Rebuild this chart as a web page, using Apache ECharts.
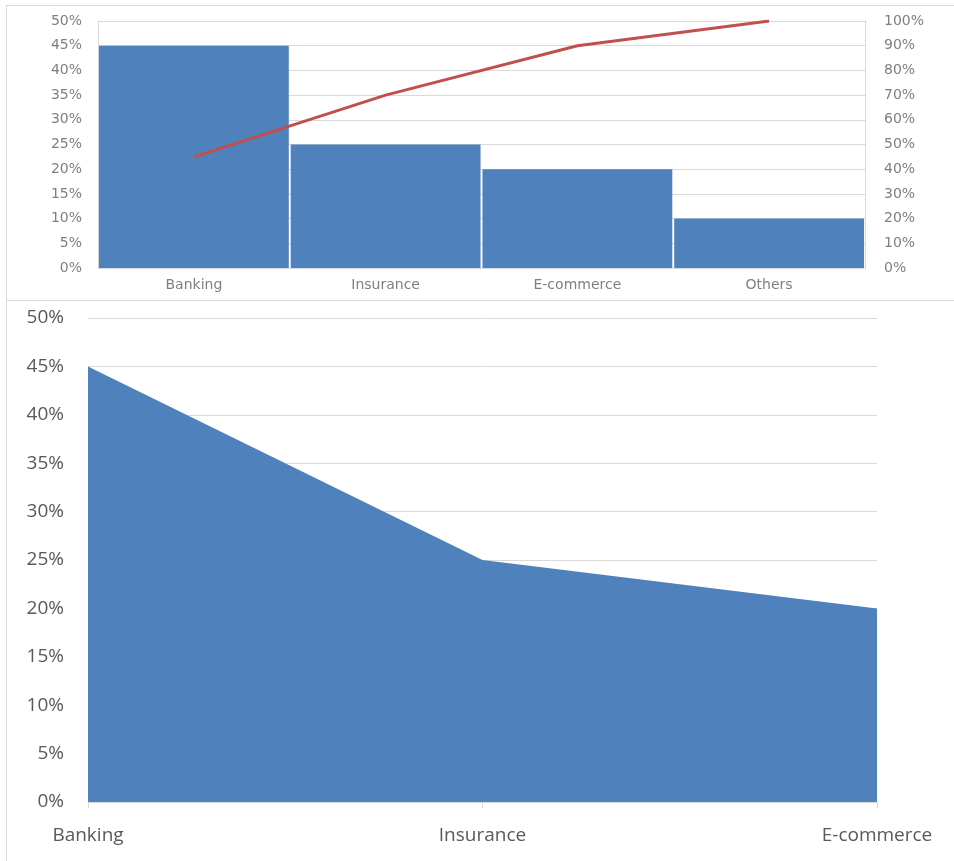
<!DOCTYPE html>
<html>
<head>
<meta charset="utf-8">
<script src="https://cdn.jsdelivr.net/npm/echarts@6/dist/echarts.min.js"></script>
<style>
html,body{margin:0;padding:0;background:#fff;}
#chart{width:954px;height:861px;}
</style>
</head>
<body>
<div id="chart"></div>
<script>
// Pareto chart data (top)
const categories = ['Banking', 'Insurance', 'E-commerce', 'Others'];
const shareValues = [45, 25, 20, 10];
const cumulativeValues = [45, 70, 90, 100];
// Area chart data (bottom)
const areaCategories = ['Banking', 'Insurance', 'E-commerce'];
const areaValues = [45, 25, 20];

const blue = '#4f81bd';
const red = '#c0504d';
const grid = '#d9d9d9';
const topFont = { fontFamily: 'DejaVu Sans', fontSize: 14, color: '#7f7f7f' };
const botFont = { fontFamily: 'Open Sans', fontSize: 19, color: '#595959' };
const pct = v => v + '%';

const chart = echarts.init(document.getElementById('chart'), null, { renderer: 'canvas' });
chart.setOption({
  animation: false,
  backgroundColor: '#fff',
  grid: [
    { left: 98, top: 21, width: 767, height: 247 },
    { left: 88, top: 318, width: 789, height: 484 }
  ],
  xAxis: [
    {
      type: 'category', gridIndex: 0, data: categories,
      axisLine: { show: true, lineStyle: { color: grid } },
      axisTick: { show: false },
      axisLabel: Object.assign({ margin: 10 }, topFont)
    },
    {
      type: 'category', gridIndex: 1, data: areaCategories, boundaryGap: false,
      axisLine: { show: true, lineStyle: { color: grid } },
      axisTick: { show: true, length: 6, lineStyle: { color: grid } },
      axisLabel: Object.assign({ margin: 24 }, botFont)
    }
  ],
  yAxis: [
    {
      type: 'value', gridIndex: 0, min: 0, max: 50, interval: 5,
      axisLine: { show: true, lineStyle: { color: grid } },
      axisTick: { show: false },
      splitLine: { show: true, lineStyle: { color: grid } },
      axisLabel: Object.assign({ margin: 16, formatter: pct }, topFont)
    },
    {
      type: 'value', gridIndex: 0, min: 0, max: 100, interval: 10, position: 'right',
      axisLine: { show: true, lineStyle: { color: grid } },
      axisTick: { show: false },
      splitLine: { show: false },
      axisLabel: Object.assign({ margin: 19, formatter: pct }, topFont)
    },
    {
      type: 'value', gridIndex: 1, min: 0, max: 50, interval: 5,
      axisLine: { show: false },
      axisTick: { show: false },
      splitLine: { show: true, lineStyle: { color: grid } },
      axisLabel: Object.assign({ margin: 24, formatter: pct, padding: [6, 0, 0, 0] }, botFont)
    }
  ],
  series: [
    {
      type: 'bar', xAxisIndex: 0, yAxisIndex: 0, data: shareValues,
      barCategoryGap: '1%',
      itemStyle: { color: blue }
    },
    {
      type: 'line', xAxisIndex: 0, yAxisIndex: 1, data: cumulativeValues,
      symbol: 'none', lineStyle: { color: red, width: 3 }, z: 5
    },
    {
      type: 'line', xAxisIndex: 1, yAxisIndex: 2, data: areaValues,
      symbol: 'none', lineStyle: { width: 0 },
      areaStyle: { color: blue, opacity: 1 }
    }
  ],
  graphic: [
    { type: 'line', shape: { x1: 7, y1: 5.5, x2: 954, y2: 5.5 }, style: { stroke: grid, lineWidth: 1 } },
    { type: 'line', shape: { x1: 6.5, y1: 5, x2: 6.5, y2: 861 }, style: { stroke: grid, lineWidth: 1 } },
    { type: 'line', shape: { x1: 7, y1: 300.5, x2: 954, y2: 300.5 }, style: { stroke: grid, lineWidth: 1 } }
  ]
});
</script>
</body>
</html>
